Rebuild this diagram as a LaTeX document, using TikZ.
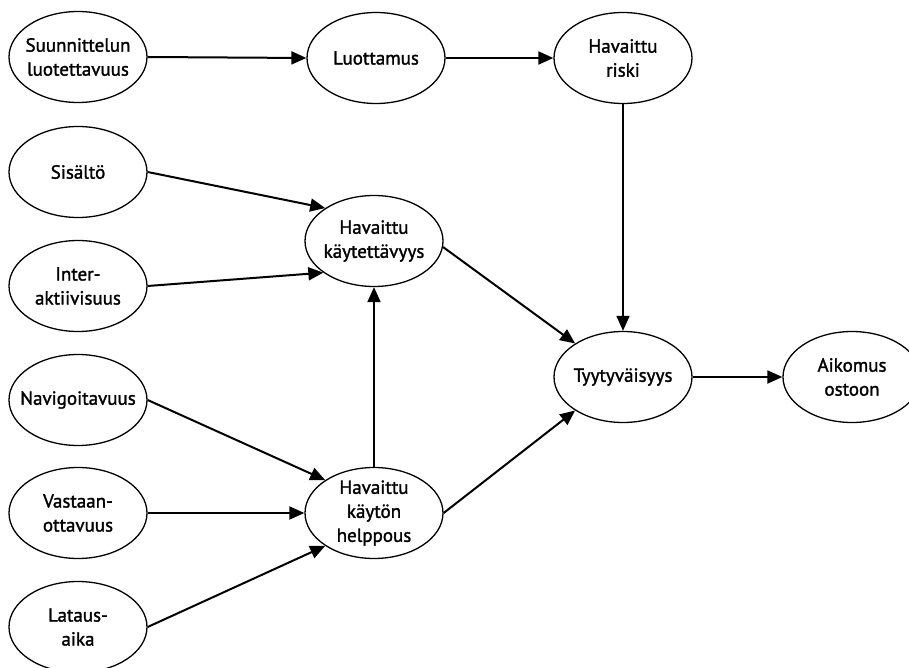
\documentclass[tikz,border=0pt]{standalone}
\usepackage{fontspec}
\setmainfont{PT Sans}[RawFeature={embolden=1.5}]
\usetikzlibrary{arrows.meta, shapes.geometric}
\tikzset{
  txt/.style={inner sep=0pt, align=center, font=\fontsize{19}{24}\selectfont},
  concept/.style={ellipse, draw, line width=1.3pt, minimum width=138pt, minimum height=91pt,
    inner sep=0pt, label={[txt]center:#1}},
  link/.style={line width=2pt, -{Triangle[length=15pt, width=13pt]}},
}
\begin{document}
\begin{tikzpicture}[x=1pt, y=-1pt]
\useasboundingbox (0,0) rectangle (909,668);
% input factors
\node[concept={Suunnittelun\\luotettavuus}] (suu) at (78,57)  {};
\node[concept={Sisältö}]                    (sis) at (78,172) {};
\node[concept={Inter-\\aktiivisuus}]        (int) at (78,286) {};
\node[concept={Navigoitavuus}]              (nav) at (78,400) {};
\node[concept={Vastaan-\\ottavuus}]         (vas) at (78,513) {};
\node[concept={Lataus-\\aika}]              (lat) at (78,627) {};
% mediators and outcomes
\node[concept={Luottamus}]                  (luo) at (376,58)  {};
\node[concept={Havaittu\\riski}]            (ris) at (623,58)  {};
\node[concept={Havaittu\\käytettävyys}]     (kay) at (374,241) {};
\node[concept={Havaittu\\käytön\\helppous}] (hel) at (374,513) {};
\node[concept={Tyytyväisyys}]               (tyy) at (623,377) {};
\node[concept={Aikomus\\ostoon}]            (aik) at (852,377) {};
% paths
\draw[link] (suu.east) -- (luo.west);
\draw[link] (luo.east) -- (ris.west);
\draw[link, line width=1.5pt] (ris.south) -- (tyy.north);
\draw[link] (sis.east) -- (kay.146);
\draw[link] (int.east) -- (kay.212);
\draw[link] (kay.-5) -- (tyy.145);
\draw[link] (hel.north) -- (kay.south);
\draw[link] (nav.east) -- (hel.146);
\draw[link] (vas.east) -- (hel.west);
\draw[link] (lat.east) -- (hel.214);
\draw[link] (hel.east) -- (tyy.215);
\draw[link] (tyy.east) -- (aik.west);
\end{tikzpicture}
\end{document}
